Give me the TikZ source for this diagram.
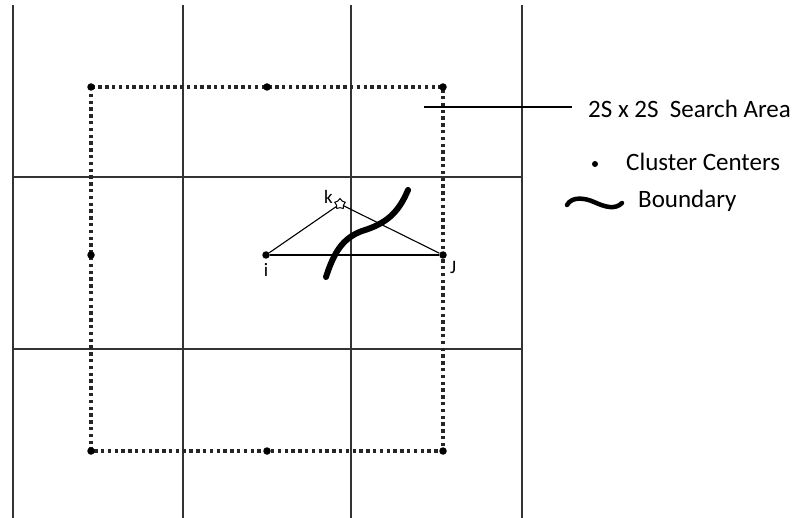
\documentclass[tikz,border=0pt]{standalone}
\usepackage{fontspec}
\setmainfont{Carlito}
\usetikzlibrary{shapes.geometric,positioning}
\tikzset{
  gridline/.style={draw=black!80, line width=1.8pt},
  searchbox/.style={draw=black!85, line width=3.6pt, dash pattern=on 3.4pt off 3.4pt},
  centre/.style={circle, fill=black, inner sep=0pt, minimum size=7.5pt},
  tri/.style={draw=black, line width=1.1pt},
  boundary/.style={draw=black, line width=6pt, line cap=round},
  legendtext/.style={inner sep=0pt, anchor=base west, font=\fontsize{25}{30}\selectfont},
  pointlbl/.style={font=\fontsize{19}{23}\selectfont, inner sep=0pt}
}

\begin{document}
\begin{tikzpicture}[x=1pt, y=-1pt]
  \useasboundingbox (0,0) rectangle (797,518);

  % superpixel grid
  \foreach \gx in {13,183,351,522}
    \draw[gridline] (\gx,5) -- (\gx,518);
  \foreach \gy in {177,349}
    \draw[gridline] (13,\gy) -- (522,\gy);

  % 2S x 2S search window
  \draw[searchbox] (91,87) rectangle (443,451);

  % cluster centres
  \node[centre] (c1) at (91,87) {};
  \node[centre] (c2) at (267,87) {};
  \node[centre] (c3) at (443,87) {};
  \node[centre] (c4) at (91,255) {};
  \node[centre, label={[pointlbl, yshift=-4pt]below:i}] (i) at (266,255) {};
  \node[centre, label={[pointlbl, xshift=4pt, yshift=-3pt]below right:J}] (J) at (443,255) {};
  \node[centre] (c7) at (91,451) {};
  \node[centre] (c8) at (267,451) {};
  \node[centre] (c9) at (443,451) {};
  \node[star, star points=5, draw, line width=1pt, fill=white, inner sep=0pt, minimum size=11pt,
        label={[pointlbl, xshift=-4pt, yshift=-3pt]above left:k}] (k) at (340,204) {};

  % distances
  \draw[tri] (i) -- (k) -- (J);
  \draw[tri] (i) -- (J);

  % boundary
  \draw[boundary] (326,277) .. controls (334,252) and (343,238) .. (362,231)
                  .. controls (385,224) and (398,214) .. (408,190);

  % legend
  \coordinate (leadstart) at (424,107);
  \coordinate (leadend) at (572,107);
  \draw[line width=1.1pt] (leadstart) -- (leadend);
  \node[legendtext] (arealbl) at (588,118) {2S x 2S~ Search Area};

  \node[centre, minimum size=6pt] (legdot) at (595,164) {};
  \node[legendtext] (centrelbl) at (626,171) {Cluster Centers};

  \draw[boundary, line width=4.5pt] (567,205) .. controls (572,196) and (585,198) .. (594,202)
                  .. controls (605,207) and (615,210) .. (622,203);
  \node[legendtext] (boundlbl) at (638,208) {Boundary};
\end{tikzpicture}
\end{document}
